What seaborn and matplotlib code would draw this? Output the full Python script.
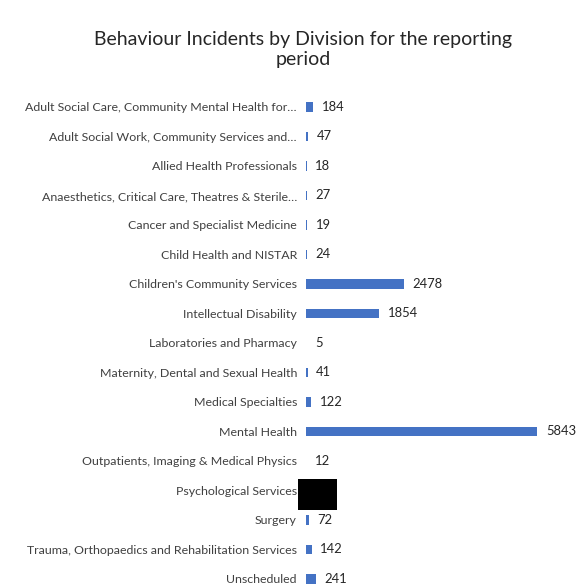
import matplotlib
matplotlib.use("Agg")
import matplotlib.pyplot as plt
from matplotlib.patches import Rectangle
import numpy as np
import pandas as pd
import seaborn as sns

divisions = [
    "Adult Social Care, Community Mental Health for\u2026",
    "Adult Social Work, Community Services and\u2026",
    "Allied Health Professionals",
    "Anaesthetics, Critical Care, Theatres & Sterile\u2026",
    "Cancer and Specialist Medicine",
    "Child Health and NISTAR",
    "Children's Community Services",
    "Intellectual Disability",
    "Laboratories and Pharmacy",
    "Maternity, Dental and Sexual Health",
    "Medical Specialties",
    "Mental Health",
    "Outpatients, Imaging & Medical Physics",
    "Psychological Services",
    "Surgery",
    "Trauma, Orthopaedics and Rehabilitation Services",
    "Unscheduled",
]
incidents = [184, 47, 18, 27, 19, 24, 2478, 1854, 5, 41, 122, 5843, 12, np.nan, 72, 142, 241]
redacted = ["Psychological Services"]

df = pd.DataFrame({"division": divisions, "incidents": incidents})

sns.set_theme(style="white")
plt.rcParams["font.family"] = ["Lato", "DejaVu Sans"]

fig = plt.figure(figsize=(5.88, 5.86), dpi=100)
ax = fig.add_axes([0.5204, -0.0132, 0.471, 0.8558])

sns.barplot(data=df, x="incidents", y="division", orient="h", color="#4472C4",
            saturation=1, width=0.32, linewidth=0, ax=ax)

ax.set_xlim(0, 7000)
ax.set_ylim(len(divisions) - 0.5, -0.5)
ax.set_xlabel("")
ax.set_ylabel("")
ax.set_xticks([])
for s in ax.spines.values():
    s.set_visible(False)
ax.tick_params(axis="y", length=0, pad=6.5, labelsize=8.9, labelcolor="#404040")

for i, v in enumerate(incidents):
    if np.isnan(v):
        continue
    ax.text(v + 220, i, f"{int(v)}", va="center", ha="left", fontsize=9.4, color="#262626")

# Redaction block over the withheld value
for name in redacted:
    i = divisions.index(name)
    ax.add_patch(Rectangle((-200, i - 0.4), 985, 1.05, facecolor="black",
                           edgecolor="none", clip_on=False, zorder=5))

fig.text(0.516, 0.915, "Behaviour Incidents by Division for the reporting\nperiod",
         ha="center", va="center", fontsize=14, color="#262626", linespacing=1.24)

fig.savefig("out.png", dpi=100)
